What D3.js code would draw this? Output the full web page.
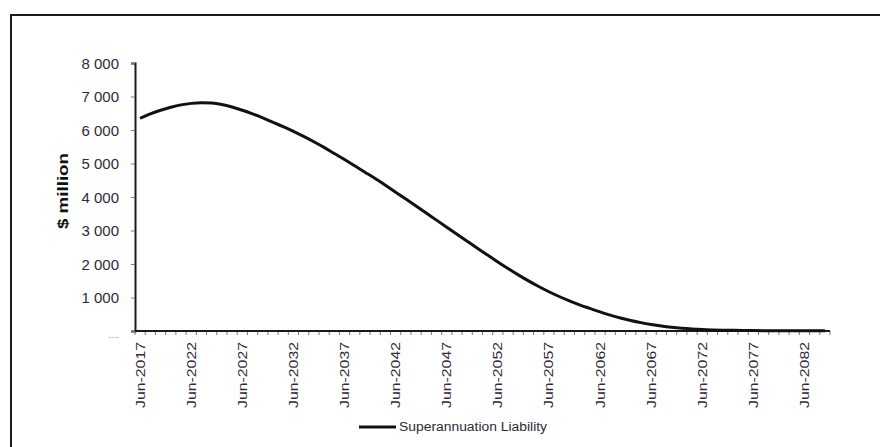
<!DOCTYPE html>
<html>
<head>
<meta charset="utf-8">
<script src="https://cdn.jsdelivr.net/npm/d3@7/dist/d3.min.js"></script>
<style>
  html, body { margin: 0; padding: 0; background: #fff; }
  svg { display: block; }
  text { font-family: "Liberation Sans", Arial, sans-serif; }
</style>
</head>
<body>
<svg id="chart" width="880" height="447"></svg>
<script>
// ---- data ----
const years = d3.range(2017, 2085);
const categories = years.map(y => "Jun-" + y);
const liability = [
  6350, 6480, 6590, 6680, 6750, 6795, 6815, 6805, 6760, 6685,
  6590, 6480, 6360, 6230, 6100, 5960, 5810, 5650, 5480, 5300,
  5120, 4930, 4740, 4550, 4350, 4145, 3938, 3730, 3520, 3310,
  3100, 2890, 2680, 2470, 2265, 2062, 1865, 1675, 1495, 1327,
  1172, 1030, 900, 782, 675, 570, 475, 390, 315, 250,
  195, 148, 110, 80, 58, 42, 32, 25, 20, 16,
  13, 11, 9, 8, 7, 6, 5, 4
];
const yTicks = [0, 1000, 2000, 3000, 4000, 5000, 6000, 7000, 8000];
const xLabelEvery = 5;
const seriesName = "Superannuation Liability";
const yTitle = "$ million";

// ---- layout ----
const svg = d3.select("#chart");
const mLeft = 135, mRight = 830, mTop = 63, mBottom = 331;

// frame
svg.append("rect")
  .attr("x", 11).attr("y", 15)
  .attr("width", 900).attr("height", 500)
  .attr("fill", "none").attr("stroke", "#1a1a1a").attr("stroke-width", 2);

const x = d3.scaleBand().domain(categories).range([mLeft, mRight]).paddingInner(0).paddingOuter(0);
const y = d3.scaleLinear().domain([0, 8000]).range([mBottom, mTop]);

// y axis
const yAxis = d3.axisLeft(y).tickValues(yTicks).tickSize(4).tickPadding(12)
  .tickFormat(d => d === 0 ? "----" : d3.format(",")(d).replace(",", " "));
const gy = svg.append("g").attr("transform", `translate(${mLeft},0)`).call(yAxis);
gy.select(".domain").attr("stroke", "#1a1a1a").attr("stroke-width", 2);
gy.selectAll(".tick line").attr("stroke", "#777").attr("stroke-width", 1);
gy.selectAll(".tick text")
  .style("font-size", d => d === 0 ? "8px" : "15px")
  .attr("fill", d => d === 0 ? "#9a9a9a" : "#2f2a36")
  .attr("dy", d => d === 0 ? "0.9em" : "0.35em");

// x axis (category axis, ticks at boundaries)
const bw = x.bandwidth();
const boundaries = categories.map(c => x(c)).concat([mRight]);
svg.append("g").selectAll("line").data(boundaries).join("line")
  .attr("x1", d => d).attr("x2", d => d)
  .attr("y1", mBottom).attr("y2", mBottom + 4)
  .attr("stroke", "#777").attr("stroke-width", 1);
svg.append("line")
  .attr("x1", mLeft).attr("x2", mRight)
  .attr("y1", mBottom).attr("y2", mBottom)
  .attr("stroke", "#1a1a1a").attr("stroke-width", 2);

svg.append("g").selectAll("text")
  .data(categories.filter((c, i) => i % xLabelEvery === 0))
  .join("text")
  .attr("transform", d => `translate(${x(d) + bw / 2},${mBottom + 11}) rotate(-90)`)
  .attr("text-anchor", "end")
  .attr("dy", "0.35em")
  .attr("fill", "#2f2a36")
  .style("font-size", "13px")
  .attr("textLength", 66)
  .attr("lengthAdjust", "spacingAndGlyphs")
  .text(d => d);

// y title
svg.append("text")
  .attr("transform", `translate(63,191) rotate(-90)`)
  .attr("text-anchor", "middle")
  .attr("dy", "0.35em")
  .attr("fill", "#111")
  .style("font-size", "14px")
  .style("font-weight", "bold")
  .attr("textLength", 76)
  .attr("lengthAdjust", "spacingAndGlyphs")
  .text(yTitle);

// line
const line = d3.line()
  .x((d, i) => x(categories[i]) + bw / 2)
  .y(d => y(d))
  .curve(d3.curveMonotoneX);
svg.append("path")
  .datum(liability)
  .attr("d", line)
  .attr("fill", "none")
  .attr("stroke", "#111")
  .attr("stroke-width", 3)
  .attr("stroke-linejoin", "round");

// legend
const lg = svg.append("g");
lg.append("line").attr("x1", 359).attr("x2", 396).attr("y1", 427).attr("y2", 427)
  .attr("stroke", "#111").attr("stroke-width", 3);
lg.append("text").attr("x", 399).attr("y", 427).attr("dy", "0.35em")
  .attr("fill", "#2f2a36")
  .style("font-size", "12px")
  .attr("textLength", 148)
  .attr("lengthAdjust", "spacingAndGlyphs")
  .text(seriesName);
</script>
</body>
</html>
